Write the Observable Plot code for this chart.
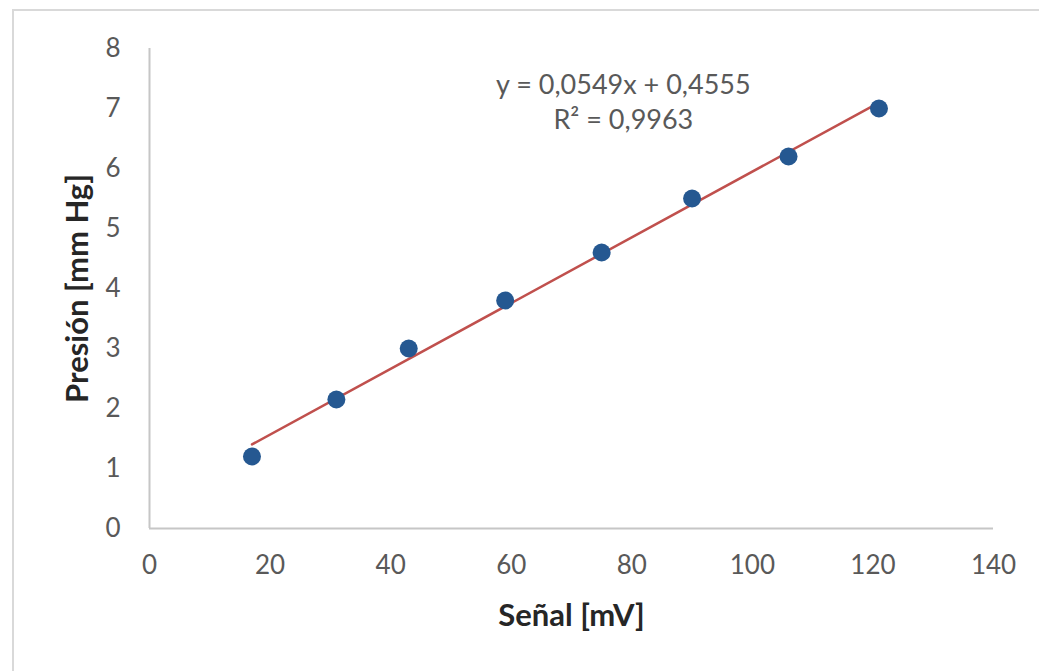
<!DOCTYPE html>
<html>
<head>
<meta charset="utf-8">
<script src="https://cdn.jsdelivr.net/npm/d3@7"></script>
<script src="https://cdn.jsdelivr.net/npm/@observablehq/plot@0.6"></script>
<style>
  html, body { margin: 0; padding: 0; background: #fff; }
  #wrap { position: relative; width: 1039px; height: 671px; overflow: hidden; }
  #frame { position: absolute; left: 12px; top: 9px; width: 1100px; height: 800px;
           border: 2px solid #d9d9d9; box-sizing: border-box; pointer-events: none; }
  #chart svg { font-family: Lato, "Open Sans", sans-serif; }
  #chart [aria-label="x-axis label"], #chart [aria-label="y-axis label"] { font-weight: bold; fill: #262626; font-size: 31px; }
</style>
</head>
<body>
<div id="wrap"><div id="chart"></div><div id="frame"></div></div>
<script>
// Data
const signal   = [17, 31, 43, 59, 75, 90, 106, 121];       // Señal [mV]
const pressure = [1.2, 2.15, 3.0, 3.8, 4.6, 5.5, 6.2, 7.0]; // Presión [mm Hg]
const xTicks = [0, 20, 40, 60, 80, 100, 120, 140];
const yTicks = [0, 1, 2, 3, 4, 5, 6, 7, 8];
const annotationText = ["y = 0,0549x + 0,4555", "R² = 0,9963"];
const annotationX = [78.6, 78.6];
const annotationY = [7.38, 6.8];

const points = signal.map((s, i) => ({x: s, y: pressure[i]}));
const notes = annotationText.map((t, i) => ({t, x: annotationX[i], y: annotationY[i]}));

const chart = Plot.plot({
  width: 1039,
  height: 671,
  marginLeft: 149,
  marginRight: 46,
  marginTop: 48,
  marginBottom: 143,
  style: {fontFamily: "Lato, 'Open Sans', sans-serif", background: "transparent"},
  x: {domain: [0, 140]},
  y: {domain: [0, 8]},
  marks: [
    Plot.ruleY([0], {stroke: "#c6c6c6", strokeWidth: 2}),
    Plot.ruleX([0], {stroke: "#c6c6c6", strokeWidth: 2}),
    Plot.axisX({ticks: xTicks, tickSize: 0, tickPadding: 27, fontSize: 26, color: "#595959",
                label: "Señal [mV]", labelAnchor: "center", labelArrow: "none", labelOffset: 97}),
    Plot.axisY({ticks: yTicks, tickSize: 0, tickPadding: 29, fontSize: 26, color: "#595959",
                label: "Presión [mm Hg]", labelAnchor: "center", labelArrow: "none", labelOffset: 84}),
    Plot.linearRegressionY(points, {x: "x", y: "y", stroke: "#c0504d", strokeWidth: 2.5, ci: 0}),
    Plot.dot(points, {x: "x", y: "y", r: 9, fill: "#255891", stroke: "none"}),
    Plot.text(notes, {x: "x", y: "y", text: "t", fontSize: 27, fill: "#595959"})
  ]
});
document.getElementById("chart").appendChild(chart);
</script>
</body>
</html>
